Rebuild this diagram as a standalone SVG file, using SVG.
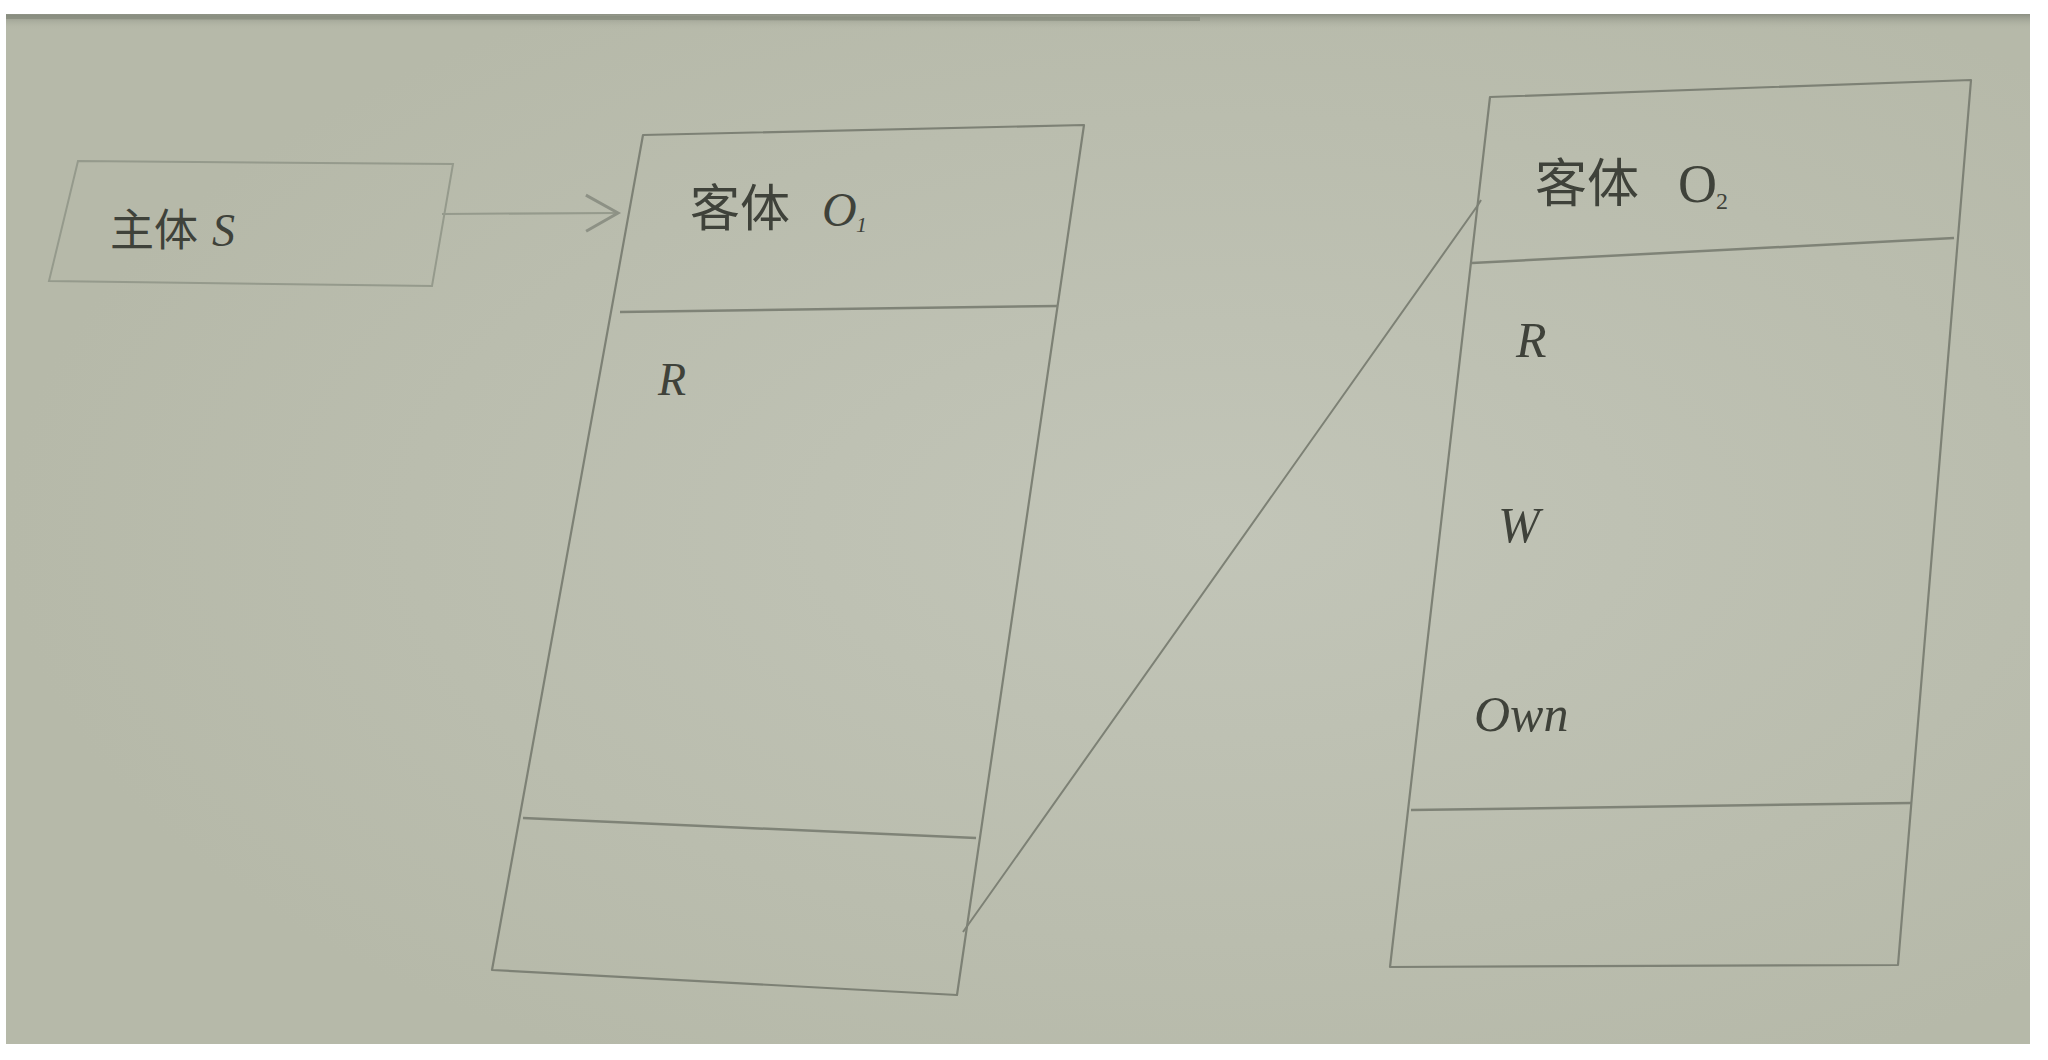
<svg xmlns="http://www.w3.org/2000/svg" width="2048" height="1060" viewBox="0 0 2048 1060">
<defs>
<linearGradient id="topband" x1="0" y1="0" x2="0" y2="1">
<stop offset="0" stop-color="#8c9083"/>
<stop offset="1" stop-color="#b7baaa" stop-opacity="0"/>
</linearGradient>
<radialGradient id="light" cx="0.6" cy="0.5" r="0.6">
<stop offset="0" stop-color="#c2c5b8"/>
<stop offset="1" stop-color="#b6b9a9"/>
</radialGradient>
<marker id="chev" viewBox="0 0 20 20" refX="18" refY="10" markerWidth="40" markerHeight="40" markerUnits="userSpaceOnUse" orient="auto">
<path d="M2,1 L18,10 L2,19" fill="none" stroke="#8d9185" stroke-width="1.5"/>
</marker>
</defs>
<style>
.box{fill:none;stroke:#7d8175;stroke-width:2.2;stroke-linejoin:round}
.faint{fill:none;stroke:#959a8c;stroke-width:2}
.div{fill:none;stroke:#7f8377;stroke-width:2.5}
.cjk{font-family:"Noto Sans CJK SC","Liberation Serif",serif;fill:#3f423a}
.lat{font-family:"Liberation Serif",serif;font-style:italic;fill:#3f423a}
.conn{fill:none;stroke:#7d8175;stroke-width:2}
</style>
<rect x="0" y="0" width="2048" height="1060" fill="#ffffff"/>
<rect x="6" y="14" width="2024" height="1030" fill="url(#light)"/>
<rect x="6" y="14" width="2024" height="16" fill="url(#topband)"/>
<line x1="6" y1="17" x2="1200" y2="19" stroke="#858a7c" stroke-width="4" opacity="0.7"/>

<g id="subject">
<polygon class="faint" points="78,161 453,164 432,286 49,281"/>
<text class="cjk" x="110" y="246" font-size="44" font-family="Noto Sans CJK SC">主体</text>
<text class="lat" x="212" y="246" font-size="46">S</text>
</g>

<g id="object1">
<polygon class="box" points="643,135 1084,125 957,995 492,970"/>
<line class="div" x1="620" y1="312" x2="1058" y2="306"/>
<line class="div" x1="523" y1="818" x2="976" y2="838"/>
<text class="cjk" x="690" y="226" font-size="50">客体</text>
<text class="lat" x="822" y="226" font-size="48">O</text>
<text class="lat" x="856" y="232" font-size="22">1</text>
<text class="lat" x="658" y="395" font-size="46">R</text>
</g>

<g id="object2">
<polygon class="box" points="1490,97 1971,80 1898,965 1390,967"/>
<line class="div" x1="1472" y1="263" x2="1954" y2="238"/>
<line class="div" x1="1411" y1="810" x2="1911" y2="803" stroke-width="5"/>
<text class="cjk" x="1535" y="202" font-size="52">客体</text>
<text x="1678" y="202" font-size="54" font-family="Liberation Serif,serif" fill="#3f423a">O</text>
<text x="1716" y="209" font-size="24" font-family="Liberation Serif,serif" fill="#3f423a">2</text>
<text class="lat" x="1516" y="357" font-size="50">R</text>
<text class="lat" x="1498" y="542" font-size="50">W</text>
<text class="lat" x="1474" y="731" font-size="50">Own</text>
</g>

<g id="connectors">
<line class="faint" x1="442" y1="214" x2="618" y2="213" marker-end="url(#chev)"/>
<polyline class="conn" points="963,932 1478,205 1481,200"/>
</g>
</svg>
